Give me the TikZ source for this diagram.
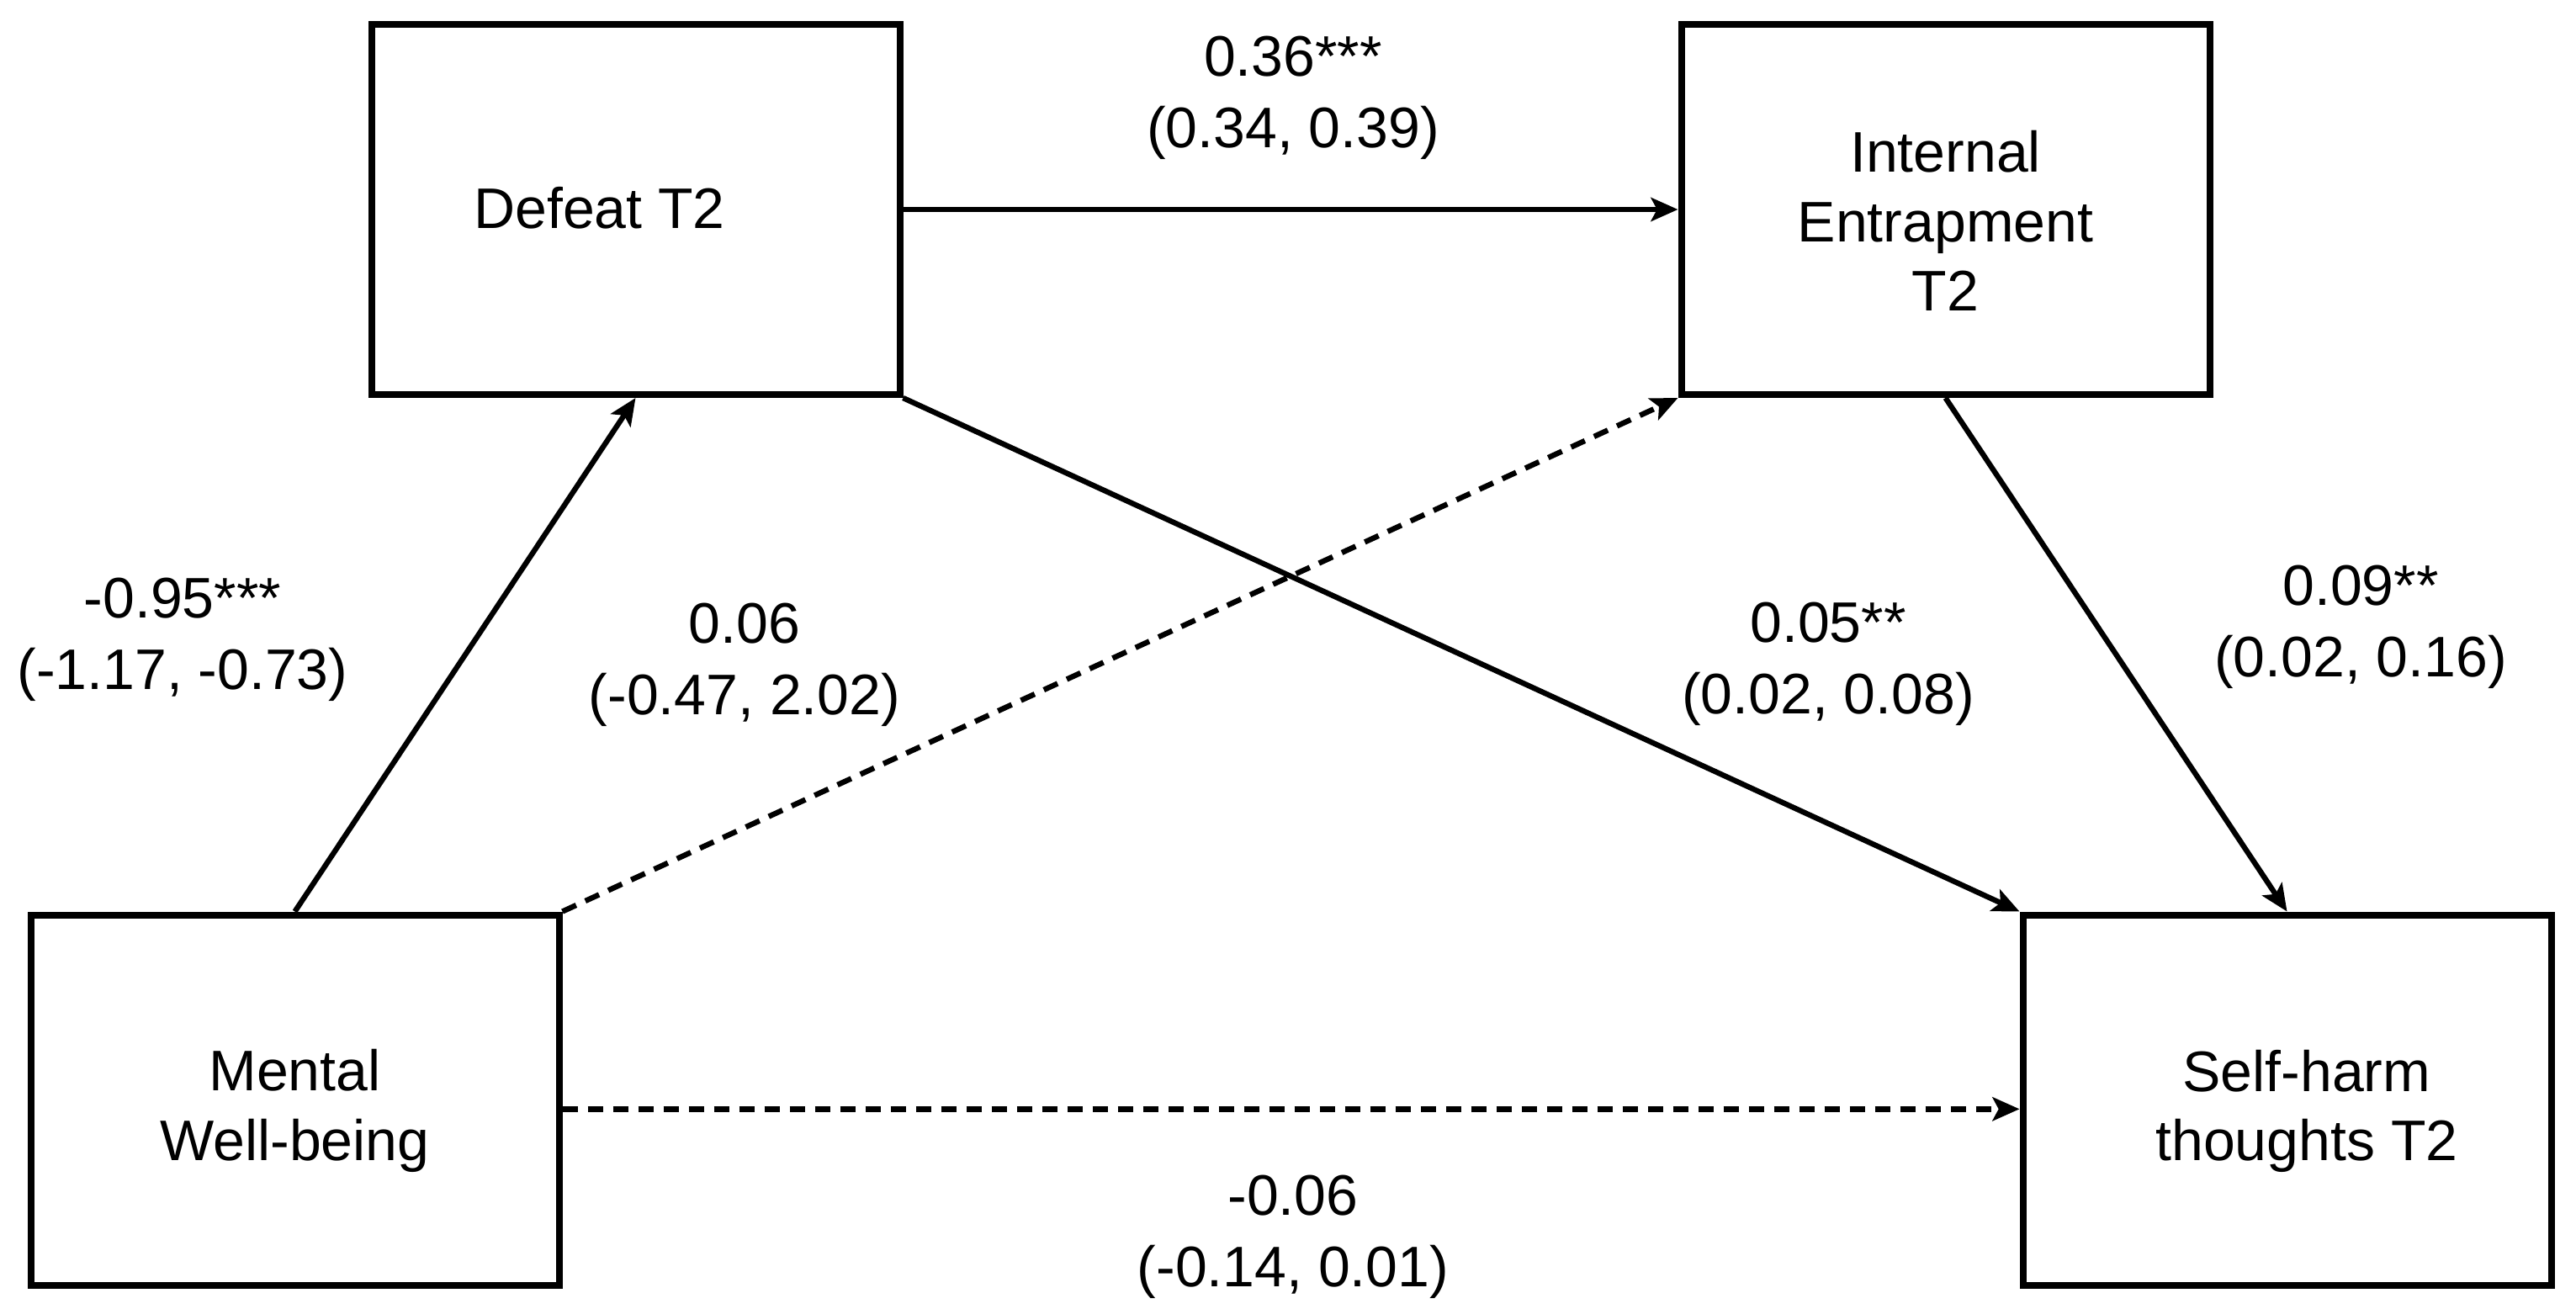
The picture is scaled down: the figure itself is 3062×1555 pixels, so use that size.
\documentclass[tikz,border=0pt]{standalone}
\usepackage{fontspec}
\setmainfont{Liberation Sans}
\usetikzlibrary{arrows.meta}
\begin{document}
\begin{tikzpicture}[x=0.25pt,y=-0.25pt,
  box/.style={draw=black,line width=2pt,fill=white,minimum width=157pt,minimum height=110pt,inner sep=0pt},
  boxtext/.style={align=center,inner sep=0pt,font=\fontsize{17}{20.6}\selectfont},
  lbl/.style={align=center,inner sep=0pt,font=\fontsize{17}{21.2}\selectfont},
  arr/.style={line width=1.6pt,-{Stealth[length=8pt,width=7pt,inset=1.8pt]}},
  dsh/.style={arr,dash pattern=on 4.5pt off 3pt}]
\useasboundingbox (0,0) rectangle (3062,1555);
\node[box,label={[boxtext,yshift=0.5pt]center:Defeat T2\hspace*{21.5pt}}] (defeat) at (755.5,249) {};
\node[box,label={[boxtext,yshift=-3.4pt]center:Internal\\Entrapment\\T2}] (internal) at (2312.5,249) {};
\node[box,label={[boxtext,yshift=-3.2pt]center:Mental\\Well-being}] (mental) at (350.5,1307.5) {};
\node[box,label={[boxtext,yshift=-3.4pt]center:\hspace*{11.7pt}Self-harm\\\hspace*{11.7pt}thoughts T2}] (selfharm) at (2718.5,1307.5) {};
\draw[arr] (defeat.east) -- (internal.west);
\draw[arr] (mental.north) -- (defeat.south);
\draw[dsh] (mental.north east) -- (internal.south west);
\draw[arr] (defeat.south east) -- (selfharm.north west);
\draw[arr] (internal.south) -- (selfharm.north);
\draw[dsh] ([yshift=-2.7pt]mental.east) -- ([yshift=-2.7pt]selfharm.west);
\node[lbl] (l1) at (1537,116) {0.36***\\(0.34, 0.39)};
\node[lbl] (l2) at (217,760) {-0.95***\\(-1.17, -0.73)};
\node[lbl] (l3) at (885,790) {0.06\\(-0.47, 2.02)};
\node[lbl] (l4) at (2173,789) {0.05**\\(0.02, 0.08)};
\node[lbl] (l5) at (2806,745) {0.09**\\(0.02, 0.16)};
\node[lbl] (l6) at (1537,1470) {-0.06\\(-0.14, 0.01)};
\end{tikzpicture}
\end{document}
